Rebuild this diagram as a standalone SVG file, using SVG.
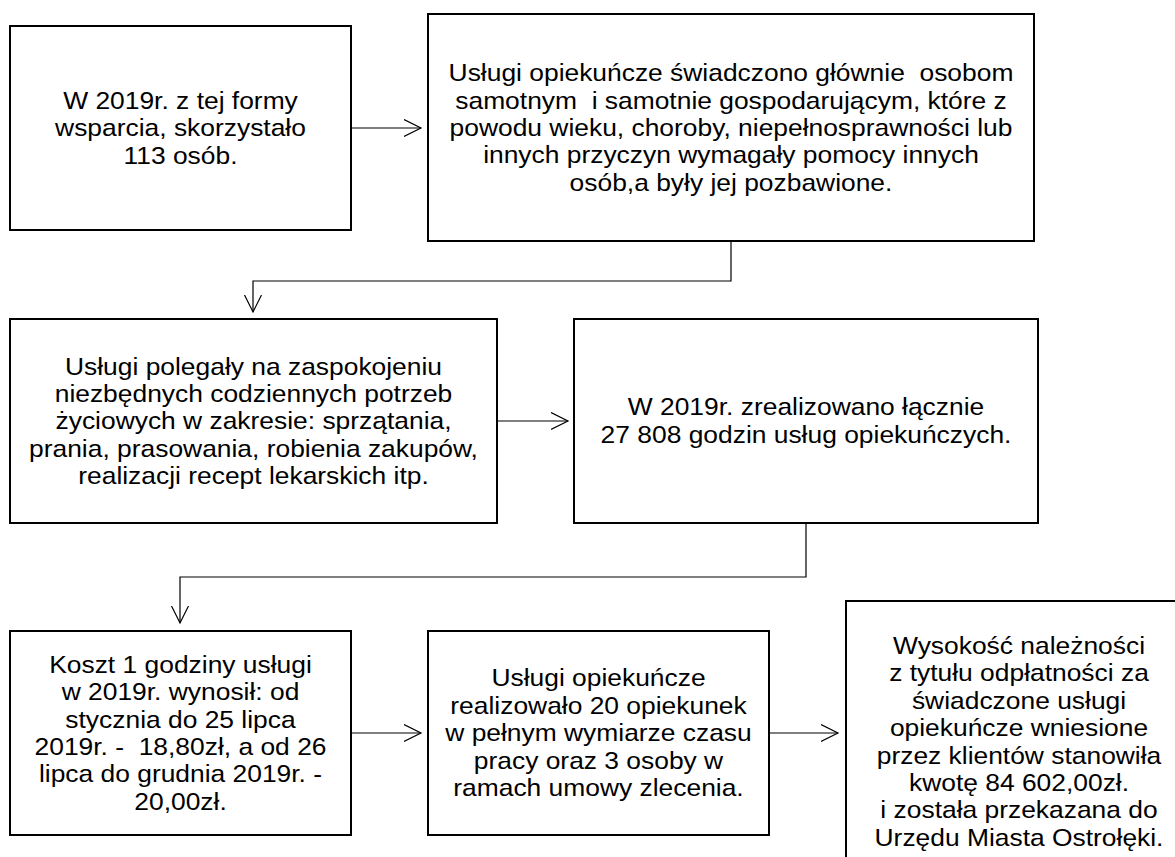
<svg xmlns="http://www.w3.org/2000/svg" width="1175" height="857" viewBox="0 0 1175 857">
<style>
.box{fill:#fff;stroke:#000;stroke-width:2}
.conn{fill:none;stroke:#000;stroke-width:1.2}
.t{font-family:"Liberation Sans",Arial,sans-serif;font-size:24px;fill:#000;text-anchor:middle}
</style>
<defs>
<marker id="arr" markerUnits="userSpaceOnUse" markerWidth="20" markerHeight="20" viewBox="0 0 20 20" refX="17" refY="9" orient="auto">
<path d="M0,0.5 L17,9 L0,17.5" fill="none" stroke="#000" stroke-width="1.2"/>
</marker>
</defs>
<rect width="1175" height="857" fill="#fff"/>
<g id="connectors">
<path class="conn" d="M351,128 H421" marker-end="url(#arr)"/>
<path class="conn" d="M731,241 V281 H253 V312" marker-end="url(#arr)"/>
<path class="conn" d="M497,421 H568" marker-end="url(#arr)"/>
<path class="conn" d="M806,523 V577 H180 V623" marker-end="url(#arr)"/>
<path class="conn" d="M351,733 H421" marker-end="url(#arr)"/>
<path class="conn" d="M769,733 H838" marker-end="url(#arr)"/>
</g>
<g id="node1">
<rect class="box" x="10" y="26" width="341" height="204"/>
<g transform="translate(180.5,0) scale(1.1,1)">
<text class="t"><tspan x="0" y="109">W 2019r. z tej formy</tspan><tspan x="0" y="136.4">wsparcia, skorzystało</tspan><tspan x="0" y="163.8">113 osób.</tspan></text>
</g>
</g>
<g id="node2">
<rect class="box" x="428" y="14" width="606" height="227"/>
<g transform="translate(731,0) scale(1.1,1)">
<text class="t"><tspan x="0" y="81.3">Usługi opiekuńcze świadczono głównie&#160; osobom</tspan><tspan x="0" y="108.7">samotnym&#160; i samotnie gospodarującym, które z</tspan><tspan x="0" y="136.1">powodu wieku, choroby, niepełnosprawności lub</tspan><tspan x="0" y="163.5">innych przyczyn wymagały pomocy innych</tspan><tspan x="0" y="190.9">osób,a były jej pozbawione.</tspan></text>
</g>
</g>
<g id="node3">
<rect class="box" x="10" y="319" width="487" height="204"/>
<g transform="translate(253.5,0) scale(1.1,1)">
<text class="t"><tspan x="0" y="374.7">Usługi polegały na zaspokojeniu</tspan><tspan x="0" y="402.1">niezbędnych codziennych potrzeb</tspan><tspan x="0" y="429.5">życiowych w zakresie: sprzątania,</tspan><tspan x="0" y="456.9">prania, prasowania, robienia zakupów,</tspan><tspan x="0" y="484.3">realizacji recept lekarskich itp.</tspan></text>
</g>
</g>
<g id="node4">
<rect class="box" x="574" y="319" width="464" height="204"/>
<g transform="translate(806,0) scale(1.1,1)">
<text class="t"><tspan x="0" y="415.5">W 2019r. zrealizowano łącznie</tspan><tspan x="0" y="442.9">27 808 godzin usług opiekuńczych.</tspan></text>
</g>
</g>
<g id="node5">
<rect class="box" x="10" y="631" width="341" height="204"/>
<g transform="translate(180.5,0) scale(1.1,1)">
<text class="t"><tspan x="0" y="672.8">Koszt 1 godziny usługi</tspan><tspan x="0" y="700.2">w 2019r. wynosił: od</tspan><tspan x="0" y="727.6">stycznia do 25 lipca</tspan><tspan x="0" y="755">2019r. -&#160; 18,80zł, a od 26</tspan><tspan x="0" y="782.4">lipca do grudnia 2019r. -</tspan><tspan x="0" y="809.8">20,00zł.</tspan></text>
</g>
</g>
<g id="node6">
<rect class="box" x="428" y="631" width="341" height="204"/>
<g transform="translate(598.5,0) scale(1.1,1)">
<text class="t"><tspan x="0" y="686.5">Usługi opiekuńcze</tspan><tspan x="0" y="713.9">realizowało 20 opiekunek</tspan><tspan x="0" y="741.3">w pełnym wymiarze czasu</tspan><tspan x="0" y="768.7">pracy oraz 3 osoby w</tspan><tspan x="0" y="796.1">ramach umowy zlecenia.</tspan></text>
</g>
</g>
<g id="node7">
<rect class="box" x="846" y="601" width="350" height="300"/>
<g transform="translate(1019,0) scale(1.1,1)">
<text class="t"><tspan x="0" y="654">Wysokość należności</tspan><tspan x="0" y="681.4">z tytułu odpłatności za</tspan><tspan x="0" y="708.8">świadczone usługi</tspan><tspan x="0" y="736.2">opiekuńcze wniesione</tspan><tspan x="0" y="763.6">przez klientów stanowiła</tspan><tspan x="0" y="791">kwotę 84 602,00zł.</tspan><tspan x="0" y="818.4">i została przekazana do</tspan><tspan x="0" y="845.8">Urzędu Miasta Ostrołęki.</tspan></text>
</g>
</g>
</svg>
